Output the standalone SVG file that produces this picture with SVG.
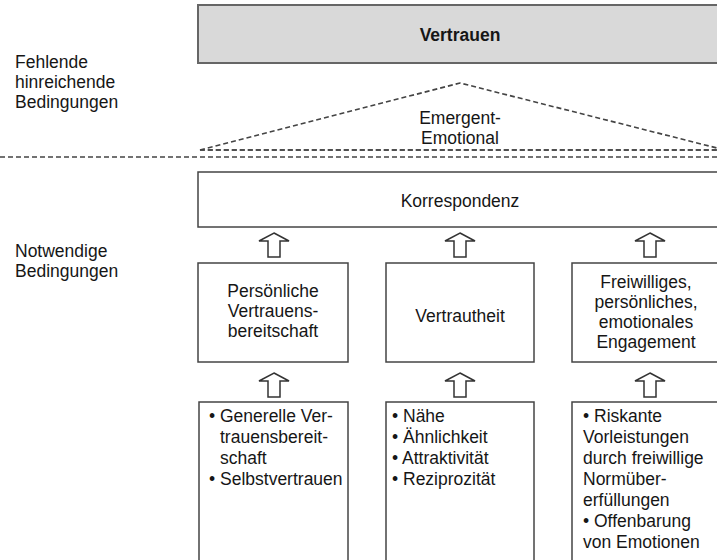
<svg xmlns="http://www.w3.org/2000/svg" width="717" height="560" viewBox="0 0 717 560">
<style>
text{font-family:"Liberation Sans",Arial,sans-serif;font-size:17.5px;fill:#161616}
.c{text-anchor:middle}
.box{fill:#fff;stroke:#444;stroke-width:1.5}
.dash{fill:none;stroke:#444;stroke-width:1.6;stroke-dasharray:5 3}
.arr{fill:#fff;stroke:#333;stroke-width:1.5;stroke-linejoin:miter}
</style>
<defs>
<polygon id="up" points="0,0 15,8 6,8 6,24 -6,24 -6,8 -15,8"/>
</defs>
<rect width="717" height="560" fill="#fff"/>

<g id="labels">
<text x="15" y="68">Fehlende</text>
<text x="15" y="88">hinreichende</text>
<text x="15" y="108">Bedingungen</text>
<text x="15" y="257">Notwendige</text>
<text x="15" y="277">Bedingungen</text>
</g>

<g id="vertrauen">
<rect x="198" y="5" width="530" height="58" fill="#d9d9d9" stroke="#666" stroke-width="2"/>
<text x="460" y="41" class="c" font-weight="bold">Vertrauen</text>
</g>

<g id="emergent">
<polygon class="dash" points="200,150 460,83 717,148 717,150"/>
<line class="dash" x1="200" y1="150" x2="717" y2="150"/>
<text x="460" y="124" class="c">Emergent-</text>
<text x="460" y="144" class="c">Emotional</text>
</g>

<g id="separator">
<line class="dash" x1="0" y1="157" x2="717" y2="157" stroke-dasharray="4 3"/>
</g>

<g id="korrespondenz">
<rect class="box" x="198" y="172" width="530" height="55"/>
<text x="460" y="207" class="c">Korrespondenz</text>
</g>

<g id="persoenliche">
<rect class="box" x="198" y="263" width="150" height="99"/>
<text x="273" y="297" class="c">Persönliche</text>
<text x="273" y="317" class="c">Vertrauens-</text>
<text x="273" y="337" class="c">bereitschaft</text>
</g>

<g id="vertrautheit">
<rect class="box" x="386" y="263" width="148" height="99"/>
<text x="460" y="322" class="c">Vertrautheit</text>
</g>

<g id="engagement">
<rect class="box" x="572" y="263" width="160" height="99"/>
<text x="646" y="288" class="c">Freiwilliges,</text>
<text x="646" y="308" class="c">persönliches,</text>
<text x="646" y="328" class="c">emotionales</text>
<text x="646" y="348" class="c">Engagement</text>
</g>

<g id="faktoren1">
<rect class="box" x="199" y="402" width="149" height="165"/>
<text x="209" y="422">• Generelle Ver-</text>
<text x="220" y="443">trauensbereit-</text>
<text x="220" y="464">schaft</text>
<text x="209" y="485">• Selbstvertrauen</text>
</g>

<g id="faktoren2">
<rect class="box" x="386" y="402" width="148" height="165"/>
<text x="392" y="422">• Nähe</text>
<text x="392" y="443">• Ähnlichkeit</text>
<text x="392" y="464">• Attraktivität</text>
<text x="392" y="485">• Reziprozität</text>
</g>

<g id="faktoren3">
<rect class="box" x="572" y="402" width="160" height="165"/>
<text x="583" y="422">• Riskante</text>
<text x="583" y="443">Vorleistungen</text>
<text x="583" y="464">durch freiwillige</text>
<text x="583" y="485">Normüber-</text>
<text x="583" y="506">erfüllungen</text>
<text x="583" y="527">• Offenbarung</text>
<text x="583" y="548">von Emotionen</text>
</g>

<g id="connectors">
<use href="#up" class="arr" x="274" y="233"/>
<use href="#up" class="arr" x="460" y="233"/>
<use href="#up" class="arr" x="650" y="233"/>
<use href="#up" class="arr" x="274" y="373"/>
<use href="#up" class="arr" x="460" y="373"/>
<use href="#up" class="arr" x="650" y="373"/>
</g>
</svg>
